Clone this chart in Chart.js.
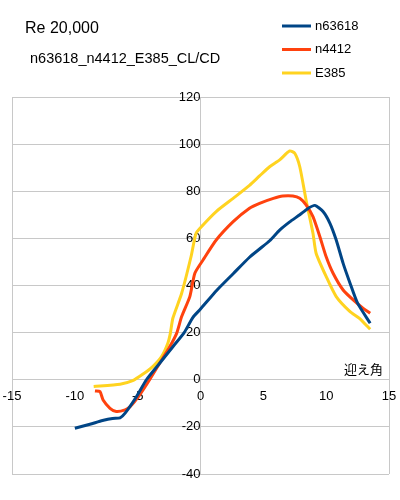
<!DOCTYPE html>
<html>
<head>
<meta charset="utf-8">
<script src="https://cdn.jsdelivr.net/npm/chart.js@4"></script>
<style>
  html, body { margin: 0; padding: 0; background: #fff; }
  #wrap { width: 400px; height: 500px; }
</style>
</head>
<body>
<div id="wrap"><canvas id="clcd" width="400" height="500"></canvas></div>
<script>
// angle of attack (deg) and CL/CD
const alphaN63618 = [-10, -8.8, -7.8, -7.0, -6.4, -6.0, -5.1, -4.3, -3.25, -2.2, -1.3, -0.6, 0, 1.3, 2.6, 3.9, 4.7, 5.5, 6.3, 7.1, 7.9, 8.5, 9.1, 9.75, 10.3, 10.8, 11.35, 11.9, 12.5, 13.5];
const clcdN63618  = [-20.6, -18.9, -17.3, -16.4, -16.2, -14.2, -7.2, 0, 7, 14, 20, 26.5, 30, 38, 45, 52, 55.5, 59, 63.5, 67, 70, 72.5, 74, 71.4, 66.4, 59.3, 49.4, 41, 32.5, 24];

const alphaN4412 = [-8.4, -8.0, -7.75, -7.2, -6.7, -6.0, -5.6, -4.85, -4.05, -3.25, -2.45, -1.9, -1.5, -0.85, -0.45, 0.2, 1.25, 2.6, 3.9, 4.7, 5.8, 6.55, 7.35, 7.9, 8.4, 8.95, 9.5, 10.0, 10.55, 11.35, 12.15, 12.95, 13.5];
const clcdN4412  = [-4.8, -5, -8.6, -12.1, -13.5, -12.8, -11.4, -6.5, 0, 7, 14, 19.7, 26.8, 35.3, 45.2, 50.8, 59.3, 67.1, 72.8, 74.9, 77, 78, 78, 77, 74.2, 69.2, 60.7, 52.2, 45.2, 38.1, 33.9, 30.3, 28.2];

const alphaE385 = [-8.5, -6.4, -5.4, -4.6, -3.8, -3.1, -2.6, -2.4, -2.2, -1.5, -0.75, -0.35, 0.2, 1.25, 2.6, 3.9, 4.7, 5.5, 6.3, 7.1, 7.5, 7.9, 8.4, 8.95, 9.2, 10.0, 10.8, 11.9, 12.65, 13.5];
const clcdE385  = [-2.9, -1.9, -0.4, 2.3, 5.6, 9.8, 15.5, 19.7, 26.1, 36.7, 52.3, 62.2, 65.7, 71.4, 77, 82.5, 86.5, 90.4, 93.3, 97.1, 96.1, 90.4, 76.3, 62.2, 53.7, 43.8, 35.3, 28.9, 26.1, 21.4];

const seriesNames = ['n63618', 'n4412', 'E385'];
const seriesColors = ['#004586', '#ff420e', '#ffd320'];

const xTicks = { min: -15, max: 15, step: 5 };
const yTicks = { min: -40, max: 120, step: 20 };

const chartTitle = 'Re 20,000';
const chartSubtitle = 'n63618_n4412_E385_CL/CD';
const xAxisName = '迎え角';

function pairs(xs, ys) {
    return xs.map((x, i) => ({ x: x, y: ys[i] }));
}

// title, subtitle, legend and axis name drawn as text on the canvas
const textPlugin = {
    id: 'textPlugin',
    afterDraw(chart) {
        const c = chart.ctx;
        c.save();
        c.fillStyle = '#000';
        c.textBaseline = 'alphabetic';
        c.textAlign = 'left';
        c.font = '16px "Liberation Sans", Arial, sans-serif';
        c.fillText(chartTitle, 25, 33);
        c.font = '14.5px "Liberation Sans", Arial, sans-serif';
        c.fillText(chartSubtitle, 30, 63);

        // legend
        c.font = '13px "Liberation Sans", Arial, sans-serif';
        c.textBaseline = 'middle';
        chart.data.datasets.forEach((ds, i) => {
            const y = 26 + i * 23.5;
            c.strokeStyle = ds.borderColor;
            c.lineWidth = 3;
            c.beginPath();
            c.moveTo(282, y);
            c.lineTo(311, y);
            c.stroke();
            c.fillText(ds.label, 315, y);
        });

        // x axis name
        c.font = '13px "Noto Sans CJK JP", sans-serif';
        c.textAlign = 'right';
        c.fillText(xAxisName, 383, 369);
        c.restore();
    }
};

const ctx = document.getElementById('clcd').getContext('2d');

new Chart(ctx, {
    type: 'line',
    data: {
        datasets: [
            { label: seriesNames[0], data: pairs(alphaN63618, clcdN63618), borderColor: seriesColors[0] },
            { label: seriesNames[1], data: pairs(alphaN4412, clcdN4412), borderColor: seriesColors[1] },
            { label: seriesNames[2], data: pairs(alphaE385, clcdE385), borderColor: seriesColors[2] }
        ]
    },
    options: {
        responsive: false,
        animation: false,
        layout: { padding: { left: 12, right: 11, top: 97, bottom: 26 } },
        elements: {
            line: { borderWidth: 3, tension: 0.2, fill: false },
            point: { radius: 0 }
        },
        scales: {
            x: {
                type: 'linear',
                position: { y: 0 },
                min: xTicks.min,
                max: xTicks.max,
                // axes cross inside the plot, so they take no layout room
                afterFit(scale) {
                    scale.height = 0;
                    scale.paddingLeft = 0;
                    scale.paddingRight = 0;
                },
                grid: {
                    drawTicks: false,
                    color: (c) => (c.tick && [xTicks.min, 0, xTicks.max].includes(c.tick.value)) ? '#c8c8c8' : 'rgba(0,0,0,0)'
                },
                border: { display: false },
                ticks: {
                    stepSize: xTicks.step,
                    padding: 9,
                    color: '#000',
                    maxRotation: 0,
                    font: { family: '"Liberation Sans", Arial, sans-serif', size: 13 }
                }
            },
            y: {
                type: 'linear',
                position: { x: 0 },
                min: yTicks.min,
                max: yTicks.max,
                afterFit(scale) {
                    scale.width = 0;
                    scale.paddingTop = 0;
                    scale.paddingBottom = 0;
                },
                grid: { drawTicks: false, color: '#c8c8c8' },
                border: { display: false },
                ticks: {
                    stepSize: yTicks.step,
                    padding: 10,
                    color: '#000',
                    font: { family: '"Liberation Sans", Arial, sans-serif', size: 13 }
                }
            }
        },
        plugins: {
            legend: { display: false },
            title: { display: false },
            tooltip: { enabled: false }
        }
    },
    plugins: [textPlugin]
});
</script>
</body>
</html>
